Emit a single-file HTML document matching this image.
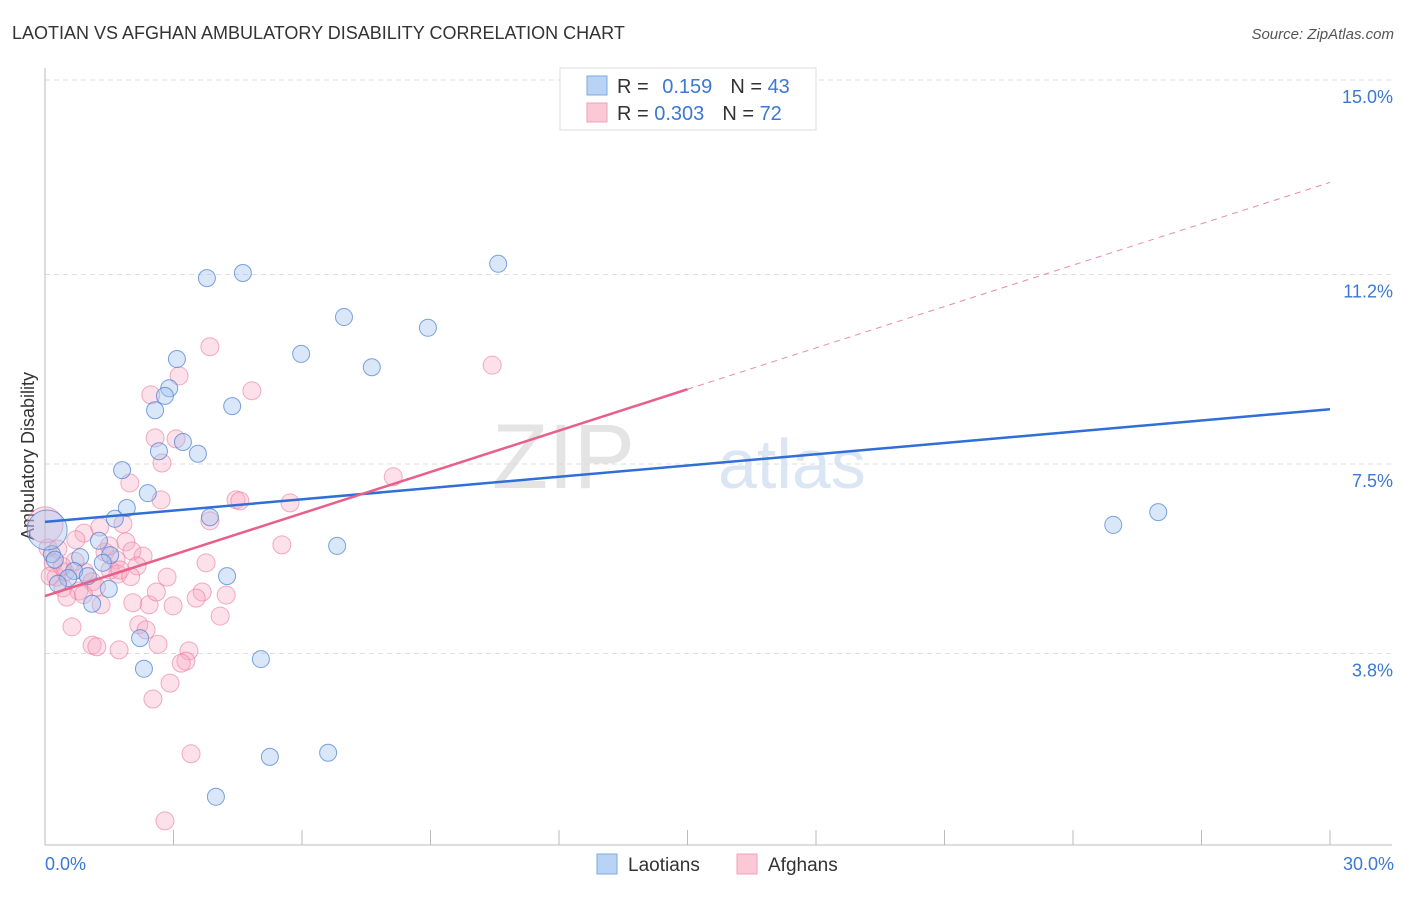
<!DOCTYPE html>
<html><head><meta charset="utf-8"><style>
body{margin:0;background:#fff;font-family:"Liberation Sans",sans-serif;}
svg text{font-family:"Liberation Sans",sans-serif;}
</style></head><body>
<svg id="c" width="1406" height="892" xmlns="http://www.w3.org/2000/svg">
<text x="12" y="39" font-size="18" fill="#333">LAOTIAN VS AFGHAN AMBULATORY DISABILITY CORRELATION CHART</text>
<text x="1394" y="39" font-size="15" fill="#555" font-style="italic" text-anchor="end">Source: ZipAtlas.com</text>
<text x="635" y="488" font-size="92" fill="#e4e4e4" text-anchor="end" font-family="Liberation Serif">ZIP</text>
<text x="718" y="488" font-size="70" fill="#dbe6f5">atlas</text>
<g id="grid"></g>
<line x1="45" y1="68" x2="45" y2="845" stroke="#bbb"/>
<line x1="45" y1="845" x2="1392" y2="845" stroke="#bbb"/>
<text transform="translate(34,456) rotate(-90)" font-size="18" fill="#333" text-anchor="middle">Ambulatory Disability</text>
<text x="45" y="870" font-size="18" fill="#3a78d4">0.0%</text>
<text x="1394" y="870" font-size="18" fill="#3a78d4" text-anchor="end">30.0%</text>
<g id="pts"></g>
<g id="lines"></g>
<g>
<rect x="560" y="68" width="256" height="62" fill="#fff" stroke="#ddd"/>
<rect x="587" y="76" width="20" height="19" fill="#b8d3f5" stroke="#7fa9e0"/>
<rect x="587" y="103" width="20" height="19" fill="#fbc8d6" stroke="#f0a0b8"/>
<text x="617" y="93" font-size="20" fill="#333">R = <tspan fill="#3a78d4" dx="8">0.159</tspan><tspan dx="18">N = </tspan><tspan fill="#3a78d4">43</tspan></text>
<text x="617" y="120" font-size="20" fill="#333">R = <tspan fill="#3a78d4">0.303</tspan><tspan dx="18">N = </tspan><tspan fill="#3a78d4">72</tspan></text>
</g>
<g>
<rect x="597" y="854" width="20" height="20" fill="#b8d3f5" stroke="#7fa9e0"/>
<text x="628" y="871" font-size="19" fill="#333">Laotians</text>
<rect x="737" y="854" width="20" height="20" fill="#fbc8d6" stroke="#f0a0b8"/>
<text x="768" y="871" font-size="19" fill="#333">Afghans</text>
</g>
</svg>
<script>
const yTicks=[3.8,7.5,11.2,15.0];
const yTickLabels=["3.8%","7.5%","11.2%","15.0%"];
const xTicks=[0,3,6,9,12,15,18,21,24,27,30];
const laoX=[3.78,4.62,10.58,6.98,8.94,5.98,7.63,3.08,2.90,2.80,2.57,4.37,3.22,2.66,3.57,1.80,2.40,1.91,1.63,3.85,1.26,6.82,1.52,0.82,0.16,0.23,0.68,1.00,0.54,0.30,4.25,1.35,1.49,1.10,2.22,5.04,2.31,5.25,6.61,3.99,24.94,25.99,0.05];
const laoY=[11.13,11.23,11.41,10.37,10.16,9.65,9.39,9.55,8.98,8.83,8.55,8.63,7.93,7.75,7.70,7.38,6.93,6.64,6.43,6.46,6.00,5.90,5.72,5.68,5.74,5.63,5.41,5.31,5.27,5.16,5.31,5.57,5.06,4.77,4.10,3.69,3.50,1.78,1.86,1.00,6.31,6.56,6.21];
const afgX=[3.85,10.44,3.13,4.83,2.47,2.57,3.06,2.73,1.98,8.13,2.71,4.46,4.55,5.72,3.85,1.82,0.91,1.28,0.72,1.89,5.53,0.07,0.30,1.40,2.03,2.29,1.66,2.15,3.76,0.19,1.52,1.70,1.75,0.47,0.26,0.93,2.85,1.10,0.12,0.42,0.79,0.51,3.67,4.23,3.53,2.99,2.43,2.05,1.31,4.09,0.63,2.19,2.36,1.10,1.21,1.73,2.64,3.36,3.29,3.18,2.92,2.52,3.41,2.80,0.00,0.70,1.20,2.00,0.40,1.50,0.90,2.60];
const afgY=[9.79,9.43,9.22,8.93,8.85,8.01,7.99,7.52,7.13,7.25,6.80,6.80,6.78,6.74,6.39,6.33,6.15,6.27,6.02,5.98,5.92,5.86,5.84,5.78,5.80,5.70,5.63,5.51,5.57,5.57,5.43,5.35,5.43,5.39,5.29,5.39,5.29,5.20,5.31,5.08,5.02,4.90,5.00,4.94,4.88,4.73,4.75,4.79,4.75,4.53,4.32,4.36,4.26,3.96,3.93,3.87,3.98,3.85,3.65,3.61,3.22,2.91,1.84,0.53,6.31,5.60,5.10,5.30,5.50,5.90,4.95,5.00];
const laoFit=[6.37,8.57];
const afgFit=[4.92,8.96,13.0];
const NS="http://www.w3.org/2000/svg";
const sx=v=>45+v*42.833, sy=v=>848-v*51.2;
function mk(t,a,p){const e=document.createElementNS(NS,t);for(const k in a)e.setAttribute(k,a[k]);document.getElementById(p).appendChild(e);return e;}
yTicks.forEach((v,i)=>{
 const l=mk('line',{x1:45,x2:1392,y1:sy(v),y2:sy(v),stroke:'#ddd','stroke-dasharray':'5,4'},'grid');
 
 
 const t=mk('text',{x:1393,y:sy(v)+23,'font-size':18,fill:'#3a78d4','text-anchor':'end'},'grid');
 t.textContent=yTickLabels[i];
 
 
});
xTicks.forEach(v=>{
 const l=mk('line',{x1:sx(v),x2:sx(v),y1:830,y2:845,stroke:'#bbb'},'grid');
 
 
});
afgX.forEach((x,i)=>{
 const r=(i==64)?18:9;
 const c=mk('circle',{cx:sx(x),cy:sy(afgY[i]),r:r,fill:'rgba(248,170,195,0.35)',stroke:'rgba(235,120,155,0.6)','stroke-width':1},'pts');
 
 
});
laoX.forEach((x,i)=>{
 const r=(i==42)?20:8.5;
 const c=mk('circle',{cx:sx(x),cy:sy(laoY[i]),r:r,fill:'rgba(160,195,240,0.4)',stroke:'rgba(70,125,210,0.7)','stroke-width':1},'pts');
 
 
});
let l1=mk('line',{x1:sx(0),y1:sy(laoFit[0]),x2:sx(30),y2:sy(laoFit[1]),stroke:'#2f6fd6','stroke-width':2.5},'lines');


let l2=mk('line',{x1:sx(0),y1:sy(afgFit[0]),x2:sx(15),y2:sy(afgFit[1]),stroke:'#e8608a','stroke-width':2.5},'lines');


let l3=mk('line',{x1:sx(15),y1:sy(afgFit[1]),x2:sx(30),y2:sy(afgFit[2]),stroke:'#eb8aa8','stroke-width':1,'stroke-dasharray':'6,5'},'lines');


</script>
</body></html>
